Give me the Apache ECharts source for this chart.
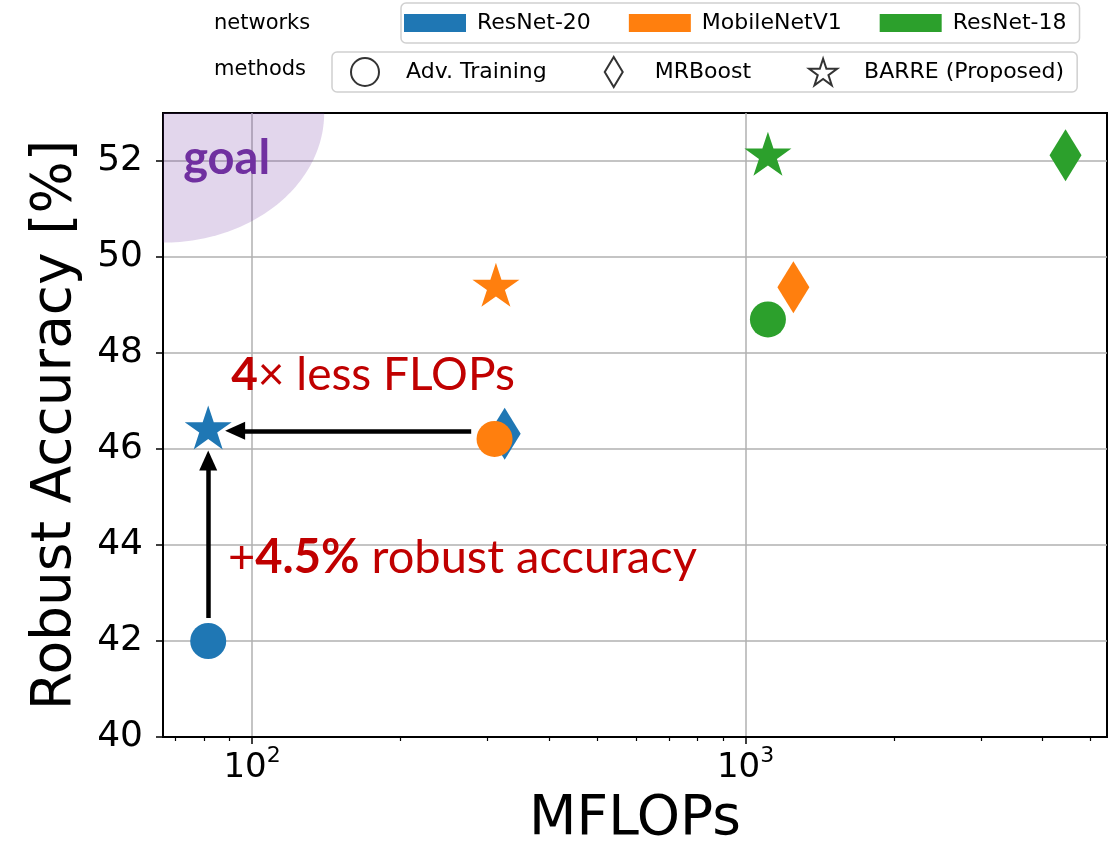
<!DOCTYPE html>
<html>
<head>
<meta charset="utf-8">
<title>Robust accuracy vs MFLOPs</title>
<script src="https://cdn.jsdelivr.net/npm/echarts@6/dist/echarts.min.js"></script>
<style>
  html, body { margin: 0; padding: 0; background: #fff; }
  #main { width: 1117px; height: 852px; }
</style>
</head>
<body>
<div id="main"></div>
<script>
// ---- data ----
var networks = ['ResNet-20', 'MobileNetV1', 'ResNet-18'];
var methods = ['Adv. Training', 'MRBoost', 'BARRE (Proposed)'];

// values are in the order of `methods`
var flopsResNet20 = [81.5, 325, 81.5];
var accResNet20 = [42.0, 46.32, 46.45];
var flopsMobileNet = [310, 1250, 312];
var accMobileNet = [46.21, 49.37, 49.42];
var flopsResNet18 = [1110, 4450, 1110];
var accResNet18 = [48.70, 52.12, 52.15];

var xMajorTicks = [100, 1000];
var xMinorTicks = [70, 80, 90, 200, 300, 400, 500, 600, 700, 800, 900, 2000, 3000, 4000, 5000];
var yTicks = [40, 42, 44, 46, 48, 50, 52];

// annotations (data coordinates)
var goalRegion = [66, 53, 140, 50.3];   // corner x, corner y, x edge, y edge
var goalText = [72.5, 52.05];
var flopsText = [90.7, 47.53];
var accText = [89.4, 43.74];
var arrowFlops = [[278, 46.38], [92.4, 46.38]];
var arrowAcc = [[81.5, 42.48], [81.5, 45.76]];

var colors = ['#1f77b4', '#ff7f0e', '#2ca02c'];
var starPath = 'path://M50,0 L61.23,34.55 L97.55,34.55 L68.17,55.9 L79.39,90.45 L50,69.1 L20.61,90.45 L31.83,55.9 L2.45,34.55 L38.77,34.55 Z';
var diamondPath = 'path://M6,0 L12,10 L6,20 L0,10 Z';
var methodSymbols = ['circle', diamondPath, starPath];
var methodSizes = [36, [32, 52], [47, 44]];
var font = 'DejaVu Sans';
var redFont = 'Lato';

function points(flops, acc) {
    var out = [];
    for (var i = 0; i < flops.length; i++) {
        out.push({
            value: [flops[i], acc[i]],
            symbol: methodSymbols[i],
            symbolSize: methodSizes[i]
        });
    }
    return out;
}

var chart = echarts.init(document.getElementById('main'));

var series = [
    {
        name: 'goal',
        type: 'custom',
        silent: true,
        clip: true,
        z: 1,
        encode: { x: [0, 2], y: [1, 3] },
        data: [goalRegion],
        renderItem: function (params, api) {
            var c = api.coord([api.value(0), api.value(1)]);
            var ex = api.coord([api.value(2), api.value(1)]);
            var ey = api.coord([api.value(0), api.value(3)]);
            var rx = ex[0] - c[0], ry = ey[1] - c[1];
            var pts = [[c[0], c[1]]];
            for (var i = 0; i <= 60; i++) {
                var t = i / 60 * Math.PI / 2;
                pts.push([c[0] + rx * Math.cos(t), c[1] + ry * Math.sin(t)]);
            }
            return { type: 'polygon', shape: { points: pts }, style: { fill: 'rgba(112,48,160,0.2)' } };
        }
    }
];

var netData = [points(flopsResNet20, accResNet20), points(flopsMobileNet, accMobileNet), points(flopsResNet18, accResNet18)];
networks.forEach(function (n, i) {
    series.push({
        name: n,
        type: 'scatter',
        z: 2 + i,
        itemStyle: { color: colors[i], opacity: 1 },
        data: netData[i]
    });
});

// empty series, only for the methods legend
methods.forEach(function (m, i) {
    series.push({
        name: m,
        type: 'scatter',
        symbol: methodSymbols[i],
        itemStyle: { color: '#fff', borderColor: '#000', borderWidth: 2 },
        data: []
    });
});

series.push({
    name: 'annotations',
    type: 'scatter',
    silent: true,
    z: 10,
    symbolSize: 0,
    itemStyle: { opacity: 1 },
    data: [
        {
            value: goalText,
            label: {
                show: true, position: 'right', distance: 0,
                formatter: 'goal',
                fontFamily: redFont, fontWeight: 'bold', fontSize: 47, color: '#7030a0'
            }
        },
        {
            value: flopsText,
            label: {
                show: true, position: 'right', distance: 0,
                formatter: '{b|4}{r|× less FLOPs}',
                rich: {
                    b: { fontFamily: redFont, fontWeight: 'bold', fontSize: 46, color: '#c00000' },
                    r: { fontFamily: redFont, fontSize: 46, color: '#c00000' }
                }
            }
        },
        {
            value: accText,
            label: {
                show: true, position: 'right', distance: 0,
                formatter: '{r|+}{b|4.5%}{r| robust accuracy}',
                rich: {
                    b: { fontFamily: redFont, fontWeight: 'bold', fontSize: 47, color: '#c00000' },
                    r: { fontFamily: redFont, fontSize: 47, color: '#c00000' }
                }
            }
        }
    ],
    markLine: {
        silent: true,
        symbol: ['none', 'triangle'],
        symbolSize: [18, 20],
        label: { show: false },
        lineStyle: { color: '#000', width: 4.5, type: 'solid', opacity: 1 },
        emphasis: { disabled: true },
        data: [
            [{ coord: arrowFlops[0] }, { coord: arrowFlops[1] }],
            [{ coord: arrowAcc[0] }, { coord: arrowAcc[1] }]
        ]
    }
});

var option = {
    animation: false,
    title: [
        { text: 'networks', left: 214, top: 13, padding: 0,
          textStyle: { fontFamily: font, fontSize: 21, fontWeight: 'normal', color: '#000' } },
        { text: 'methods', left: 214, top: 59, padding: 0,
          textStyle: { fontFamily: font, fontSize: 21, fontWeight: 'normal', color: '#000' } }
    ],
    legend: [
        {
            left: 401, top: 3,
            selectedMode: false,
            data: networks.map(function (n) { return { name: n, icon: 'rect' }; }),
            itemWidth: 62, itemHeight: 18, itemGap: 38,
            padding: [9, 13, 9, 3],
            borderColor: '#d0d0d0', borderWidth: 1.5, borderRadius: 5,
            textStyle: { fontFamily: font, fontSize: 22, color: '#000', padding: [0, 0, 0, 6] }
        },
        {
            left: 332, top: 52,
            selectedMode: false,
            data: methods.map(function (m, i) {
                return { name: m, icon: methodSymbols[i],
                         itemStyle: { color: '#fff', borderColor: '#000', borderWidth: 2 } };
            }),
            itemWidth: 28, itemHeight: 30, itemGap: 57,
            padding: [4, 13, 4, 18],
            borderColor: '#d0d0d0', borderWidth: 1.5, borderRadius: 5,
            textStyle: { fontFamily: font, fontSize: 22, color: '#000', padding: [0, 0, 0, 22] }
        }
    ],
    grid: {
        left: 163, right: 10, top: 113, bottom: 115,
        show: true, borderColor: '#000', borderWidth: 2, backgroundColor: 'transparent'
    },
    xAxis: [
        {
            type: 'log', logBase: 10, min: 66, max: 5400,
            name: 'MFLOPs', nameLocation: 'middle', nameGap: 55,
            nameTextStyle: { fontFamily: font, fontSize: 55, color: '#000' },
            axisLine: { show: true, lineStyle: { color: '#000', width: 2 } },
            axisTick: { show: true, length: 7, customValues: xMajorTicks, lineStyle: { color: '#000', width: 1.5 } },
            axisLabel: {
                customValues: xMajorTicks, margin: 8,
                formatter: function (v) {
                    var e = Math.round(Math.log(v) / Math.LN10);
                    return '{b|10}{s|' + e + '}';
                },
                rich: {
                    b: { fontFamily: font, fontSize: 34, color: '#000', lineHeight: 40, verticalAlign: 'bottom' },
                    s: { fontFamily: font, fontSize: 22, color: '#000', lineHeight: 40, verticalAlign: 'top' }
                }
            },
            splitLine: { show: true, lineStyle: { color: '#b0b0b0', width: 1.5 } }
        },
        {
            type: 'log', logBase: 10, min: 66, max: 5400, position: 'bottom',
            axisLine: { show: false },
            axisTick: { show: true, length: 4, customValues: xMinorTicks, lineStyle: { color: '#000', width: 1.2 } },
            axisLabel: { show: false },
            splitLine: { show: false }
        }
    ],
    yAxis: {
        type: 'value', min: 40, max: 53, interval: 2,
        name: 'Robust Accuracy [%]', nameLocation: 'middle', nameGap: 80,
        nameTextStyle: { fontFamily: font, fontSize: 55, color: '#000' },
        axisLine: { show: true, lineStyle: { color: '#000', width: 2 } },
        axisTick: { show: true, length: 7, customValues: yTicks, lineStyle: { color: '#000', width: 1.5 } },
        axisLabel: { customValues: yTicks, fontFamily: font, fontSize: 36, color: '#000', margin: 20 },
        splitLine: { show: true, lineStyle: { color: '#b0b0b0', width: 1.5 } }
    },
    series: series
};

chart.setOption(option);
</script>
</body>
</html>
